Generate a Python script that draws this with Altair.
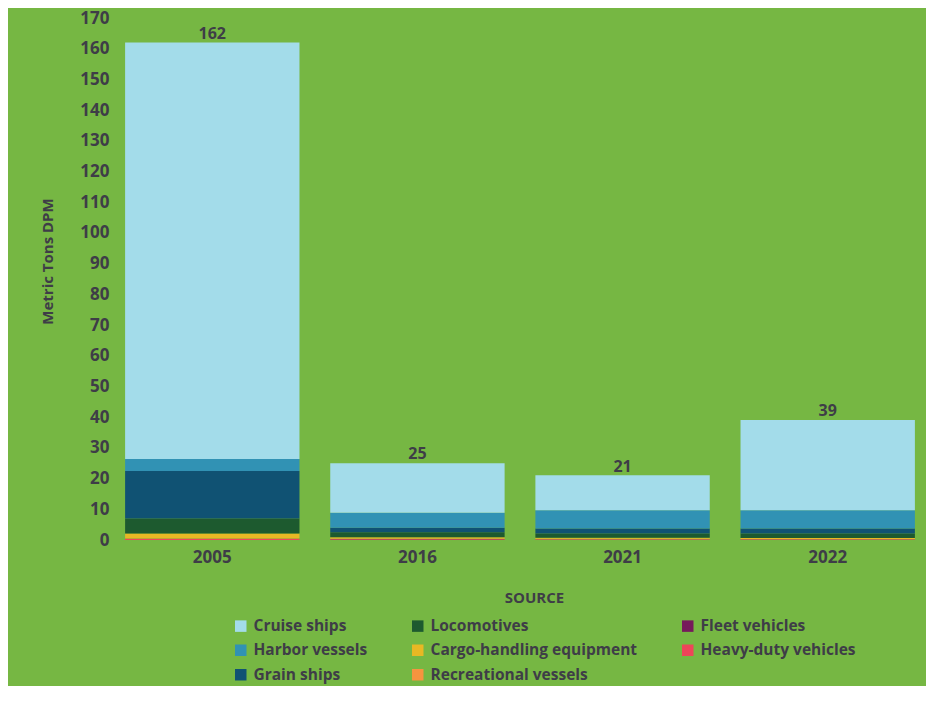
import altair as alt
import pandas as pd

years = ["2005", "2016", "2021", "2022"]
categories = ["Heavy-duty vehicles", "Fleet vehicles", "Recreational vessels",
              "Cargo-handling equipment", "Locomotives", "Grain ships",
              "Harbor vessels", "Cruise ships"]
heavy = [0.35, 0.25, 0.2, 0.2]
fleet = [0.05, 0.05, 0.05, 0.05]
recreational = [0.1, 0.2, 0.15, 0.1]
cargo = [1.6, 0.4, 0.35, 0.3]
loco = [4.9, 1.6, 1.4, 1.5]
grain = [15.5, 1.5, 1.6, 1.6]
harbor = [3.9, 4.9, 5.9, 5.9]
cruise = [135.6, 16.1, 11.4, 29.4]
totals = [162, 25, 21, 39]

legend_order = ["Cruise ships", "Harbor vessels", "Grain ships",
                "Locomotives", "Cargo-handling equipment", "Recreational vessels",
                "Fleet vehicles", "Heavy-duty vehicles"]
colors = {
    "Cruise ships": "#a3dcea",
    "Harbor vessels": "#3192b4",
    "Grain ships": "#105273",
    "Locomotives": "#1d5a2f",
    "Cargo-handling equipment": "#e8b824",
    "Recreational vessels": "#f7943f",
    "Fleet vehicles": "#761a5b",
    "Heavy-duty vehicles": "#ee4559",
}

series = [heavy, fleet, recreational, cargo, loco, grain, harbor, cruise]
rows = []
for rank, (cat, vals) in enumerate(zip(categories, series)):
    for y, v in zip(years, vals):
        rows.append({"year": y, "category": cat, "value": v, "rank": rank})
df = pd.DataFrame(rows)
tot = pd.DataFrame({"year": years, "total": totals})

FONT = "Open Sans"
TXT = "#3e3d47"

x_axis = alt.Axis(labelAngle=0, labelFontSize=17, labelFontWeight="bold",
                  labelColor=TXT, labelFont=FONT, labelPadding=9,
                  titleFontSize=15, titleFontWeight="bold", titleColor=TXT,
                  titleFont=FONT, titlePadding=25, titleX=413,
                  ticks=False, domain=False)
y_axis = alt.Axis(values=list(range(0, 171, 10)), grid=False, ticks=False,
                  domain=False, labelOverlap=False, labelFontSize=17,
                  labelFontWeight="bold", labelColor=TXT, labelFont=FONT,
                  labelPadding=12, titleFontSize=15, titleFontWeight="bold",
                  titleColor=TXT, titleFont=FONT, titlePadding=24, titleY=243)
x_scale = alt.Scale(paddingInner=0.15, paddingOuter=0.02)
y_scale = alt.Scale(domain=[0, 170], nice=False)

bars = alt.Chart(df).mark_bar().encode(
    x=alt.X("year:N", title="SOURCE", sort=years, scale=x_scale, axis=x_axis),
    y=alt.Y("value:Q", stack="zero", title="Metric Tons DPM", scale=y_scale, axis=y_axis),
    color=alt.Color("category:N",
                    scale=alt.Scale(domain=legend_order,
                                    range=[colors[c] for c in legend_order]),
                    legend=alt.Legend(title=None, orient="none", legendX=112, legendY=600,
                                      columns=3, symbolType="square", symbolSize=132,
                                      symbolStrokeWidth=0, labelFontSize=15.5,
                                      labelFontWeight="bold", labelFont=FONT,
                                      labelColor=TXT, labelOffset=5, rowPadding=7.5,
                                      columnPadding=42, labelLimit=300)),
    order=alt.Order("rank:Q", sort="ascending"),
)

labels = alt.Chart(tot).mark_text(baseline="alphabetic", dy=-4, fontSize=16,
                                  fontWeight="bold", font=FONT, color=TXT).encode(
    x=alt.X("year:N", title="SOURCE", sort=years, scale=x_scale, axis=x_axis),
    y=alt.Y("total:Q", title="Metric Tons DPM", scale=y_scale, axis=y_axis),
    text=alt.Text("total:Q"),
)

chart = alt.layer(bars, labels).properties(
    width=798, height=522,
    autosize=alt.AutoSizeParams(type="none"),
    padding={"left": 113, "top": 10, "right": 7, "bottom": 146},
    background="#76b743",
).configure_view(stroke=None).configure_axis(labelOverlap=False)

chart.save("out.html", embed_options={"renderer": "svg", "actions": False})
